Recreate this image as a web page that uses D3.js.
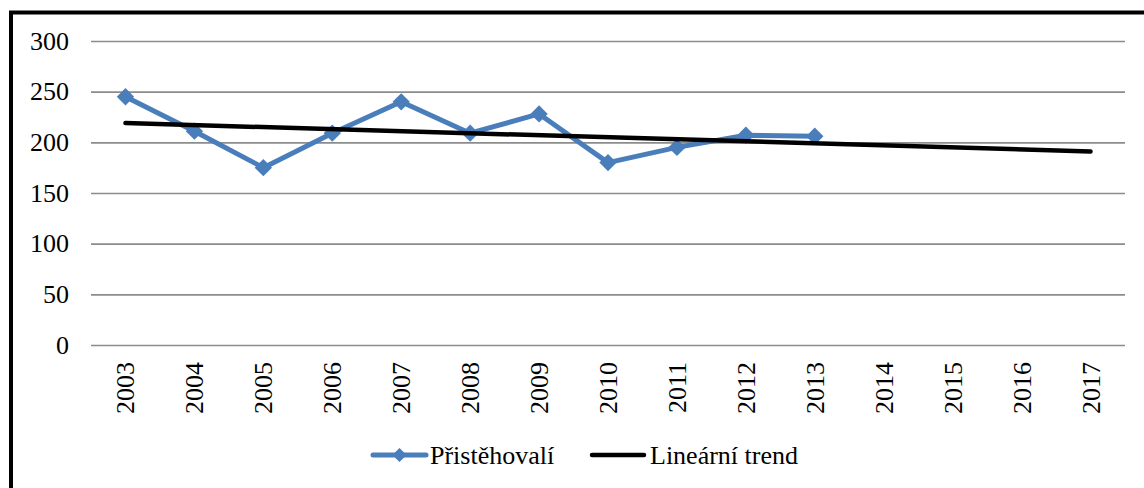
<!DOCTYPE html>
<html>
<head>
<meta charset="utf-8">
<script src="https://cdn.jsdelivr.net/npm/d3@7"></script>
<style>
  body { margin: 0; background: #fff; }
</style>
</head>
<body>
<div id="chart"></div>
<script>
var years = ["2003", "2004", "2005", "2006", "2007", "2008", "2009", "2010",
             "2011", "2012", "2013", "2014", "2015", "2016", "2017"];
var immigrants = [245, 211, 175, 209, 240, 209, 228, 180, 195, 207, 206];
var trendYears = ["2003", "2017"];
var trendValues = [219, 191];
var yTicks = [0, 50, 100, 150, 200, 250, 300];

var w = 1144, h = 488;
var blue = "#4a7ebb";
var font = "'Liberation Serif', 'Times New Roman', serif";

var svg = d3.select("#chart").append("svg")
    .attr("width", w)
    .attr("height", h)
    .style("font-family", font);

var x = d3.scaleBand().domain(years).range([91, 1125]);
var y = d3.scaleLinear().domain([0, 300]).range([345, 41]);

// frame
svg.append("rect")
    .attr("x", 11).attr("y", 12.5)
    .attr("width", 1200).attr("height", 600)
    .attr("fill", "none")
    .attr("stroke", "#000")
    .attr("stroke-width", 4);

// gridlines + y labels
var yAxis = svg.append("g")
    .attr("transform", "translate(91,0)")
    .call(d3.axisLeft(y).tickValues(yTicks).tickSize(-(1125 - 91)).tickPadding(22));
yAxis.attr("font-family", font).attr("font-size", 26);
yAxis.select(".domain").remove();
yAxis.selectAll(".tick line").attr("stroke", "#8c8c8c").attr("stroke-width", 1.6);
yAxis.selectAll(".tick text")
    .style("font-family", font)
    .style("font-size", "26px")
    .attr("fill", "#000");

// x labels
var xAxis = svg.append("g")
    .attr("transform", "translate(0,345)")
    .call(d3.axisBottom(x).tickSize(0).tickPadding(0));
xAxis.attr("font-family", font).attr("font-size", 26);
xAxis.select(".domain").remove();
xAxis.selectAll(".tick text")
    .style("font-family", font)
    .style("font-size", "26px")
    .attr("fill", "#000")
    .attr("text-anchor", "end")
    .attr("transform", "translate(9,17) rotate(-90)")
    .attr("dy", 0)
    .attr("y", 0);

function cx(d) { return x(d) + x.bandwidth() / 2; }

// series line
var line = d3.line()
    .x(function(d, i) { return cx(years[i]); })
    .y(function(d) { return y(d); });

svg.append("path")
    .datum(immigrants)
    .attr("d", line)
    .attr("fill", "none")
    .attr("stroke", blue)
    .attr("stroke-width", 5)
    .attr("stroke-linejoin", "round");

var diamond = d3.symbol().type(d3.symbolSquare).size(150);
svg.selectAll("path.mark")
    .data(immigrants)
  .enter().append("path")
    .attr("class", "mark")
    .attr("d", diamond)
    .attr("fill", blue)
    .attr("transform", function(d, i) {
      return "translate(" + cx(years[i]) + "," + y(d) + ") rotate(45)";
    });

// trend line
svg.append("path")
    .datum(trendValues)
    .attr("d", d3.line()
        .x(function(d, i) { return cx(trendYears[i]); })
        .y(function(d) { return y(d); }))
    .attr("fill", "none")
    .attr("stroke", "#000")
    .attr("stroke-width", 4.5)
    .attr("stroke-linecap", "round");

// legend
var legend = svg.append("g").attr("transform", "translate(0,455)");
legend.append("line")
    .attr("x1", 373).attr("x2", 426).attr("y1", 0).attr("y2", 0)
    .attr("stroke", blue).attr("stroke-width", 5).attr("stroke-linecap", "round");
legend.append("path")
    .attr("d", d3.symbol().type(d3.symbolSquare).size(100))
    .attr("fill", blue)
    .attr("transform", "translate(399.5,0) rotate(45)");
legend.append("text")
    .attr("x", 430).attr("y", 9)
    .style("font-family", font)
    .style("font-size", "26px")
    .text("Přistěhovalí");
legend.append("line")
    .attr("x1", 592).attr("x2", 644).attr("y1", 0).attr("y2", 0)
    .attr("stroke", "#000").attr("stroke-width", 4.5).attr("stroke-linecap", "round");
legend.append("text")
    .attr("x", 650).attr("y", 9)
    .style("font-family", font)
    .style("font-size", "26px")
    .attr("textLength", 148)
    .text("Lineární trend");
</script>
</body>
</html>
